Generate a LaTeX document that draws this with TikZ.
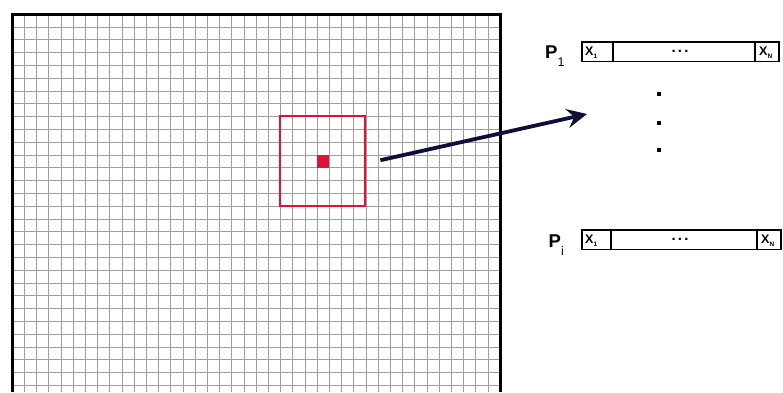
\documentclass[tikz,border=0pt]{standalone}
\usepackage{fontspec}
\setmainfont{Liberation Sans}
\usetikzlibrary{arrows.meta,positioning}
\definecolor{winred}{RGB}{222,18,58}
\definecolor{arrnavy}{RGB}{14,14,58}
\tikzset{
  gridline/.style={black!38,line width=0.55pt},
  frame/.style={line width=3pt},
  win/.style ={draw=winred,line width=2.1pt,inner sep=0pt,outer sep=0pt},
  pix/.style ={fill=winred,inner sep=0pt,outer sep=0pt},
  cell/.style={draw,line width=1.8pt,minimum height=19.5pt,inner sep=0pt,outer sep=0pt},
  xlab/.style={inner sep=0pt,font=\bfseries\fontsize{12.5}{12.5}\selectfont},
  plab/.style={inner sep=0pt,font=\bfseries\fontsize{18.5}{18.5}\selectfont},
  dot/.style ={fill,minimum size=3.8pt,inner sep=0pt},
  ar/.style={-{Stealth[length=20pt,width=19pt,inset=7pt]},line width=3.8pt,arrnavy},
}
\newcommand{\plsub}[1]{\raisebox{-8.5pt}{\mdseries\fontsize{12.5}{12.5}\selectfont #1}}
\newcommand{\xsub}[1]{\raisebox{-2.5pt}{\fontsize{6.5}{6.5}\selectfont #1}}
\newcommand{\gap}{.\hspace{2.2pt}.\hspace{2.2pt}.}

\begin{document}
\begin{tikzpicture}[x=1pt,y=-1pt]
  \useasboundingbox (0,0) rectangle (783,392);
  % image grid
  \foreach \i in {0,...,40}
    \draw[gridline] (12+12.2*\i,14) -- (12+12.2*\i,392);
  \foreach \j in {1,...,30}
    \draw[gridline] (12,14+12.8*\j) -- (500,14+12.8*\j);
  \draw[frame] (12,392) -- (12,14) -- (500,14) -- (500,392);

  % window around the pixel
  \node[win,minimum width=85.4pt,minimum height=89.6pt] (win) at (322.7,161.2) {};
  \node[pix,minimum width=12.2pt,minimum height=12.8pt] (pix) at (win.center) {};

  % feature vectors
  \node[cell,minimum width=31pt] (a1) at (597.5,51.8) {};
  \node[cell,minimum width=142pt,right=0pt of a1] (m1) {};
  \node[cell,minimum width=24pt,right=0pt of m1] (n1) {};
  \node[plab,anchor=base west] (p1) at (545,58.3) {P\plsub{1}};

  \node[cell,minimum width=29pt] (ai) at (596.5,239.8) {};
  \node[cell,minimum width=146pt,right=0pt of ai] (mi) {};
  \node[cell,minimum width=24pt,right=0pt of mi] (ni) {};
  \node[plab,anchor=base west] (pi) at (548.5,247) {P\plsub{i}};

  \node[xlab,anchor=west] (x11) at ([xshift=3pt,yshift=-1pt]a1.west) {X\xsub{1}};
  \node[xlab,font=\bfseries\fontsize{15}{15}\selectfont] (d1) at ([xshift=-4pt]m1.center) {\gap};
  \node[xlab,anchor=west] (xn1) at ([xshift=4pt,yshift=-1pt]n1.west) {X\xsub{N}};
  \node[xlab,anchor=west] (xi1) at ([xshift=3pt,yshift=-1pt]ai.west) {X\xsub{1}};
  \node[xlab,font=\bfseries\fontsize{15}{15}\selectfont] (di) at ([xshift=-4pt]mi.center) {\gap};
  \node[xlab,anchor=west] (xni) at ([xshift=4pt,yshift=-1pt]ni.west) {X\xsub{N}};

  % vertical ellipsis
  \node[dot] (v1) at (658.7,94) {};
  \node[dot] (v2) at (658.7,122.7) {};
  \node[dot] (v3) at (658.7,150) {};

  \coordinate (tip) at (587,114);
  \draw[ar] ([xshift=15pt,yshift=1pt]win.east) -- (tip);
\end{tikzpicture}
\end{document}
